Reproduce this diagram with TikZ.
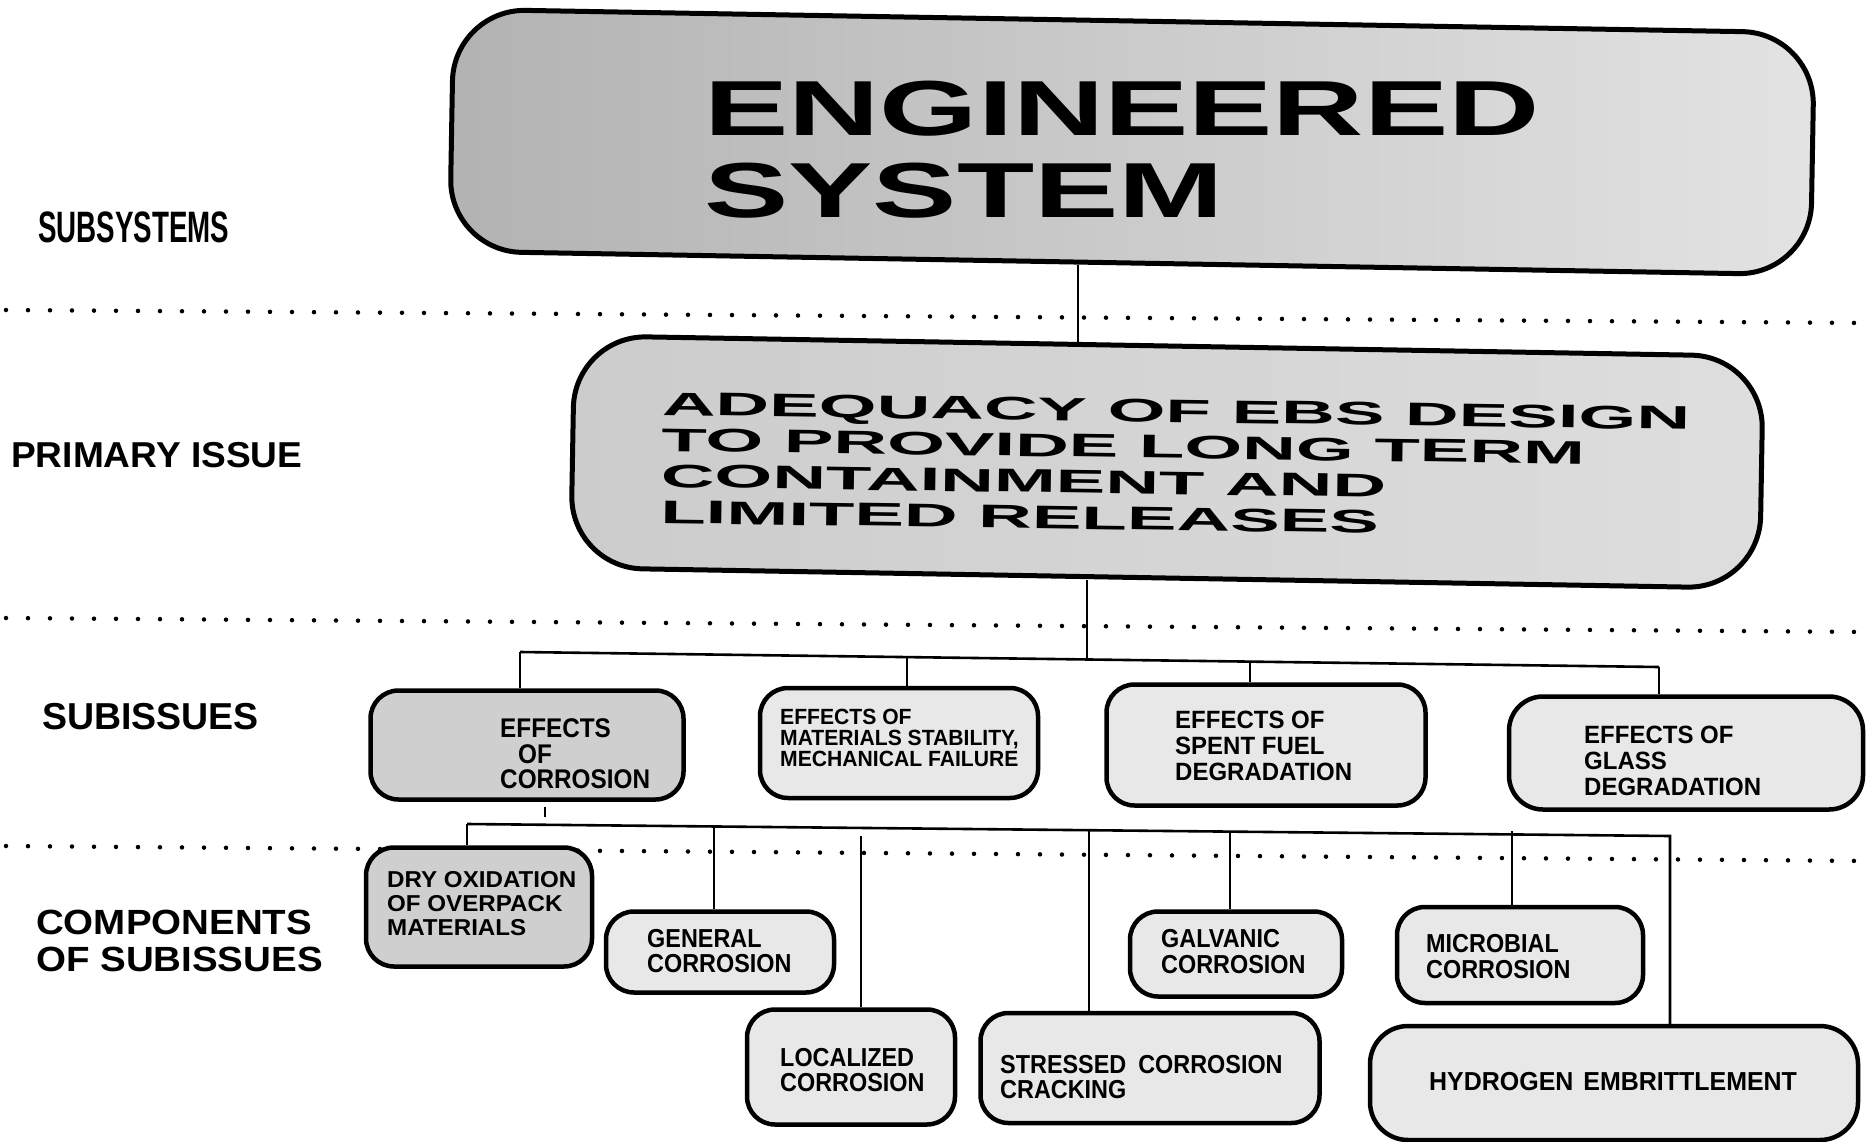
\documentclass[tikz,border=0pt]{standalone}
\usepackage{fontspec}
\setmainfont{Liberation Sans}
\newfontfamily\fTitle[FakeStretch=1.62]{Liberation Sans}
\newfontfamily\fPI[FakeStretch=2.28]{Liberation Sans}
\newfontfamily\fSubsys[FakeStretch=0.63]{Liberation Sans}
\newfontfamily\fPrim[FakeStretch=1.03]{Liberation Sans}
\newfontfamily\fSubis[FakeStretch=1.0]{Liberation Sans}
\newfontfamily\fComp[FakeStretch=1.1]{Liberation Sans}
\newfontfamily\fBox[FakeStretch=0.9]{Liberation Sans}
\newfontfamily\fBoxM[FakeStretch=0.96]{Liberation Sans}
\newfontfamily\fBoxW[FakeStretch=1.05]{Liberation Sans}
\tikzset{
  bigbox/.style={draw, line width=5pt, rounded corners=72pt, inner sep=0pt},
  sbox/.style={draw, line width=4.5pt, rounded corners=28pt, inner sep=0pt, fill=black!9},
  dense/.style={fill=black!19},
  txt/.style={anchor=west, inner sep=0pt, align=left},
  conn/.style={line width=2.6pt},
  dotline/.style={line width=4.5pt, line cap=round, dash pattern=on 0pt off 22pt},
}
\begin{document}
\begin{tikzpicture}[x=1pt,y=-1pt]
\useasboundingbox (0,0) rectangle (1867,1142);
\fill[white] (0,0) rectangle (1867,1142);

% dotted separators
\coordinate (d1a) at (6,310);  \coordinate (d1b) at (1867,323);
\coordinate (d2a) at (6,618);  \coordinate (d2b) at (1867,632);
\coordinate (d3a) at (6,846);  \coordinate (d3b) at (1867,861);
\draw[dotline] (d1a) -- (d1b);
\draw[dotline] (d2a) -- (d2b);
\draw[dotline] (d3a) -- (d3b);

% left labels
\node[txt, font=\fSubsys\bfseries\fontsize{44}{44}\selectfont] (lSub) at (38,227) {SUBSYSTEMS};
\node[txt, font=\fPrim\bfseries\fontsize{36}{36}\selectfont] (lPrim) at (11,455) {PRIMARY ISSUE};
\node[txt, font=\fSubis\bfseries\fontsize{37.5}{37.5}\selectfont] (lSubis) at (42,716.5) {SUBISSUES};
\node[txt, font=\fComp\bfseries\fontsize{35}{37}\selectfont] (lComp) at (36,941) {COMPONENTS\\OF SUBISSUES};

% main boxes
\node[bigbox, left color=black!30, right color=black!11, minimum width=1361pt, minimum height=242pt, rotate=-1] (es) at (1132,142) {};
\node[txt, font=\fTitle\bfseries\fontsize{78}{82}\selectfont] (tES) at (704,150) {ENGINEERED\\SYSTEM};

\node[bigbox, left color=black!20, right color=black!13, minimum width=1189pt, minimum height=232pt, rotate=-1] (pi) at (1167,462) {};
\node[txt, rotate=-0.8, font=\fPI\bfseries\fontsize{32.6}{36}\selectfont] (tPI) at (661,458) {ADEQUACY OF EBS DESIGN\\TO PROVIDE LONG TERM\\CONTAINMENT AND\\LIMITED RELEASES};

% subissue boxes
\node[sbox, dense, minimum width=313pt, minimum height=109pt] (s1) at (527,745) {};
\node[txt, font=\fBox\bfseries\fontsize{27}{25.5}\selectfont] (t1) at (500,754) {EFFECTS\\\hspace*{18pt}OF\\CORROSION};
\node[sbox, minimum width=278pt, minimum height=110pt] (s2) at (899,743) {};
\node[txt, font=\fBoxM\bfseries\fontsize{22}{21}\selectfont] (t2) at (780,738) {EFFECTS OF\\MATERIALS STABILITY,\\MECHANICAL FAILURE};
\node[sbox, minimum width=319pt, minimum height=121pt] (s3) at (1266,745) {};
\node[txt, font=\fBoxM\bfseries\fontsize{25}{26}\selectfont] (t3) at (1175,746) {EFFECTS OF\\SPENT FUEL\\DEGRADATION};
\node[sbox, minimum width=354pt, minimum height=113pt, rounded corners=34pt] (s4) at (1686,753) {};
\node[txt, font=\fBoxM\bfseries\fontsize{25}{26}\selectfont] (t4) at (1584,761) {EFFECTS OF\\GLASS\\DEGRADATION};

% component boxes
\node[sbox, dense, minimum width=226pt, minimum height=119pt] (c1) at (479,907) {};
\node[txt, font=\fBoxW\bfseries\fontsize{23}{24}\selectfont] (u1) at (387,903.7) {DRY OXIDATION\\OF OVERPACK\\MATERIALS};
\node[sbox, minimum width=228pt, minimum height=81pt] (c2) at (720,952) {};
\node[txt, font=\fBox\bfseries\fontsize{26}{25}\selectfont] (u2) at (647,951) {GENERAL\\CORROSION};
\node[sbox, minimum width=208pt, minimum height=115pt] (c3) at (851,1067) {};
\node[txt, font=\fBox\bfseries\fontsize{26}{25}\selectfont] (u3) at (780,1070.5) {LOCALIZED\\CORROSION};
\node[sbox, minimum width=339pt, minimum height=110pt] (c4) at (1150,1068) {};
\node[txt, font=\fBox\bfseries\fontsize{26}{25}\selectfont] (u4) at (1000,1077.5) {STRESSED\hspace{12pt}CORROSION\\CRACKING};
\node[sbox, minimum width=212pt, minimum height=85pt] (c5) at (1236,954) {};
\node[txt, font=\fBox\bfseries\fontsize{26}{26}\selectfont] (u5) at (1161,952) {GALVANIC\\CORROSION};
\node[sbox, minimum width=246pt, minimum height=96pt] (c6) at (1520,955) {};
\node[txt, font=\fBox\bfseries\fontsize{26}{26}\selectfont] (u6) at (1426,957) {MICROBIAL\\CORROSION};
\node[sbox, minimum width=488pt, minimum height=114pt, rounded corners=38pt] (c7) at (1614,1083) {};
\node[txt, font=\fBoxM\bfseries\fontsize{26}{26}\selectfont] (u7) at (1429,1082) {HYDROGEN\hspace{10pt}EMBRITTLEMENT};

% connectors: engineered system -> primary issue
\coordinate (xES) at (1078,0);
\draw[conn] (es.south -| xES) -- (pi.north -| xES);

% primary issue -> subissue bus
\coordinate (j0) at (1087,659.5);
\coordinate (j1) at (520,652);
\coordinate (j2) at (907,657);
\coordinate (j3) at (1250,661.6);
\coordinate (j4) at (1659,667);
\draw[conn] (pi.south -| j0) -- (j0);
\draw[conn] (j1) -- (j4);
\draw[conn] (j1) -- (j1 |- s1.north);
\draw[conn] (j2) -- (j2 |- s2.north);
\draw[conn] (j3) -- (j3 |- s3.north);
\draw[conn] (j4) -- (j4 |- s4.north);

% small tick under effects of corrosion
\coordinate (tk1) at (545,807);
\coordinate (tk2) at (545,817);
\draw[conn] (tk1) -- (tk2);

% component bus
\coordinate (k1) at (467,824);
\coordinate (k2) at (714,826.5);
\coordinate (k3) at (861,836);
\coordinate (k4) at (1089,829);
\coordinate (k5) at (1230,831.6);
\coordinate (k6) at (1512,831);
\coordinate (k7) at (1670,836);
\draw[conn] (k1) -- (k7) -- (k7 |- c7.north);
\draw[conn] (k1) -- (k1 |- c1.north);
\draw[conn] (k2) -- (k2 |- c2.north);
\draw[conn] (k3) -- (k3 |- c3.north);
\draw[conn] (k4) -- (k4 |- c4.north);
\draw[conn] (k5) -- (k5 |- c5.north);
\draw[conn] (k6) -- (k6 |- c6.north);
\end{tikzpicture}
\end{document}
